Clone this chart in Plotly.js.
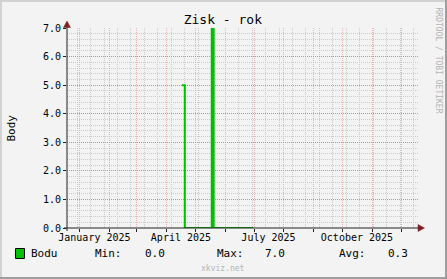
<!DOCTYPE html>
<html>
<head>
<meta charset="utf-8">
<script src="https://cdn.plot.ly/plotly-3.0.1.min.js"></script>
<style>html,body{margin:0;padding:0;background:#f3f3f3;}#chart{width:447px;height:279px;}</style>
</head>
<body>
<div id="chart"></div>
<script>
// ---- data ----
const chartTitle = 'Zisk - rok';
const yTitle = 'Body';
const seriesName = 'Bodu';
const dates = ['2025-04-17', '2025-04-20', '2025-05-18', '2025-05-20', '2025-06-30'];
const values = [5, 0, 7, 0, 0];
const xLabelDates = ['2025-01-16', '2025-04-16', '2025-07-16', '2025-10-16'];
const xLabelText = ['January 2025', 'April 2025', 'July 2025', 'October 2025'];
const statLabels = ['Min:', 'Max:', 'Avg:'];
const statValues = ['0.0', '7.0', '0.3'];
const xRange = ['2024-12-18 12:00', '2025-12-18 12:00'];
const yRange = [0, 7];
const watermark = 'xkviz.net';
const sideText = 'RRDTOOL / TOBI OETIKER';

// ---- geometry / style ----
const W = 447, H = 279;
const L = 67, R = 418, T = 28, B = 228;
const px = x => (x - L) / (R - L);
const py = y => (B - y) / (B - T);
const FONT = 'DejaVu Sans Mono';
const GREEN = '#00C000';
const BG = '#f3f3f3';
const MGRID_X = '#efafaf';
const MGRID_Y = '#e38585';
const GRID = '#cbcbcb';
const AXIS = '#212121';
const ARROW = '#802121';
const DAY = 86400000;

// minor grid positions (excluding major positions)
const yMinor = [];
for (let i = 1; i < 35; i++) { if (i % 5 !== 0) yMinor.push(i / 5); }
const xMinor = [];
{
  const start = Date.UTC(2024, 11, 29);
  for (let t = start; t < Date.UTC(2025, 11, 19); t += 14 * DAY) {
    const d = new Date(t);
    if (d.getUTCDate() !== 1) xMinor.push(d.toISOString().slice(0, 10));
  }
}

const traces = [
  {
    x: dates, y: values, type: 'scatter', mode: 'lines',
    line: {color: GREEN, width: 2, shape: 'hv'},
    cliponaxis: false, showlegend: false, hoverinfo: 'skip'
  },
  {
    x: xRange, y: [null, null], xaxis: 'x2', type: 'scatter', mode: 'lines',
    showlegend: false, hoverinfo: 'skip'
  }
];

const annotations = [];
function ann(text, x, y, opts) {
  annotations.push(Object.assign({
    text: text, xref: 'paper', yref: 'paper', x: px(x), y: py(y),
    showarrow: false, borderpad: 0, xanchor: 'left', yanchor: 'middle',
    font: {family: FONT, size: 11, color: '#000'}
  }, opts || {}));
}
ann(yTitle, 10.5, 128, {xanchor: 'center', textangle: -90});
ann(seriesName, 30, 253.5);
const statLabelX = [94, 215.5, 337.5];
const statValueX = [144, 263.5, 386.5];
statLabels.forEach((s, i) => {
  ann(s, statLabelX[i], 253.5);
  ann(statValues[i], statValueX[i], 253.5);
});
ann(watermark, 223, 268, {xanchor: 'center', font: {family: FONT, size: 8, color: '#b4b4b4'}});
ann(sideText, 438.5, 60, {xanchor: 'center', textangle: 90, font: {family: FONT, size: 8, color: '#b4b4b4'}});

const shapes = [
  {type: 'line', xref: 'paper', yref: 'paper', x0: px(1), y0: py(0), x1: px(1), y1: py(H), line: {color: '#d2d2d2', width: 2}},
  {type: 'line', xref: 'paper', yref: 'paper', x0: px(0), y0: py(1), x1: px(W), y1: py(1), line: {color: '#d2d2d2', width: 2}},
  {type: 'line', xref: 'paper', yref: 'paper', x0: px(0), y0: py(H - 1), x1: px(W), y1: py(H - 1), line: {color: '#9e9e9e', width: 2}},
  {type: 'line', xref: 'paper', yref: 'paper', x0: px(W - 1), y0: py(0), x1: px(W - 1), y1: py(H), line: {color: '#9e9e9e', width: 2}},
  {type: 'line', xref: 'paper', yref: 'paper', x0: px(L), y0: py(B + 3), x1: px(L), y1: py(23), line: {color: AXIS, width: 1}},
  {type: 'line', xref: 'paper', yref: 'paper', x0: px(L - 3), y0: py(B), x1: px(421), y1: py(B), line: {color: AXIS, width: 1}},
  {type: 'path', xref: 'paper', yref: 'paper',
   path: `M ${px(67)} ${py(21)} L ${px(63.5)} ${py(27.5)} L ${px(70.5)} ${py(27.5)} Z`,
   fillcolor: ARROW, line: {color: ARROW, width: 0.5}},
  {type: 'path', xref: 'paper', yref: 'paper',
   path: `M ${px(424.5)} ${py(228)} L ${px(418)} ${py(224.5)} L ${px(418)} ${py(231.5)} Z`,
   fillcolor: ARROW, line: {color: ARROW, width: 0.5}},
  {type: 'rect', xref: 'paper', yref: 'paper', x0: px(15.5), y0: py(248.5), x1: px(24.5), y1: py(258.5),
   fillcolor: GREEN, line: {color: '#000', width: 1}}
];

const layout = {
  width: W, height: H,
  margin: {l: L, r: W - R, t: T, b: H - B, pad: 0},
  paper_bgcolor: BG, plot_bgcolor: BG,
  showlegend: false,
  title: {
    text: chartTitle, font: {family: FONT, size: 13, color: '#000'},
    xref: 'container', x: 0.4985, xanchor: 'center',
    yref: 'container', y: 1 - 19.5 / H, yanchor: 'middle'
  },
  xaxis: {
    type: 'date', range: xRange, tick0: '2025-01-01', dtick: 'M1',
    showticklabels: false, ticks: 'outside', ticklen: 3, tickcolor: AXIS, tickwidth: 1,
    showgrid: true, gridcolor: MGRID_X, griddash: '1px,1px', gridwidth: 1,
    minor: {tickmode: 'array', tickvals: xMinor, showgrid: true, gridcolor: GRID, griddash: '1px,1px', gridwidth: 1, ticks: ''},
    showline: false, zeroline: false, fixedrange: true
  },
  xaxis2: {
    type: 'date', range: xRange, overlaying: 'x', anchor: 'y', side: 'bottom',
    tickmode: 'array', tickvals: xLabelDates, ticktext: xLabelText,
    ticks: '', showgrid: false, showline: false, zeroline: false,
    tickfont: {family: FONT, size: 10, color: '#000'}, ticklabelstandoff: 2
  },
  yaxis: {
    range: yRange, dtick: 1, tick0: 0, tickformat: '.1f',
    ticks: 'outside', ticklen: 3, tickcolor: AXIS,
    tickfont: {family: FONT, size: 10, color: '#000'},
    showgrid: true, gridcolor: MGRID_Y, griddash: '1px,1px', gridwidth: 1,
    minor: {tickmode: 'array', tickvals: yMinor, showgrid: true, gridcolor: GRID, griddash: '1px,1px', gridwidth: 1, ticks: ''},
    showline: false, zeroline: false, fixedrange: true
  },
  shapes: shapes,
  annotations: annotations
};

Plotly.newPlot('chart', traces, layout, {staticPlot: true, displayModeBar: false});
</script>
</body>
</html>
